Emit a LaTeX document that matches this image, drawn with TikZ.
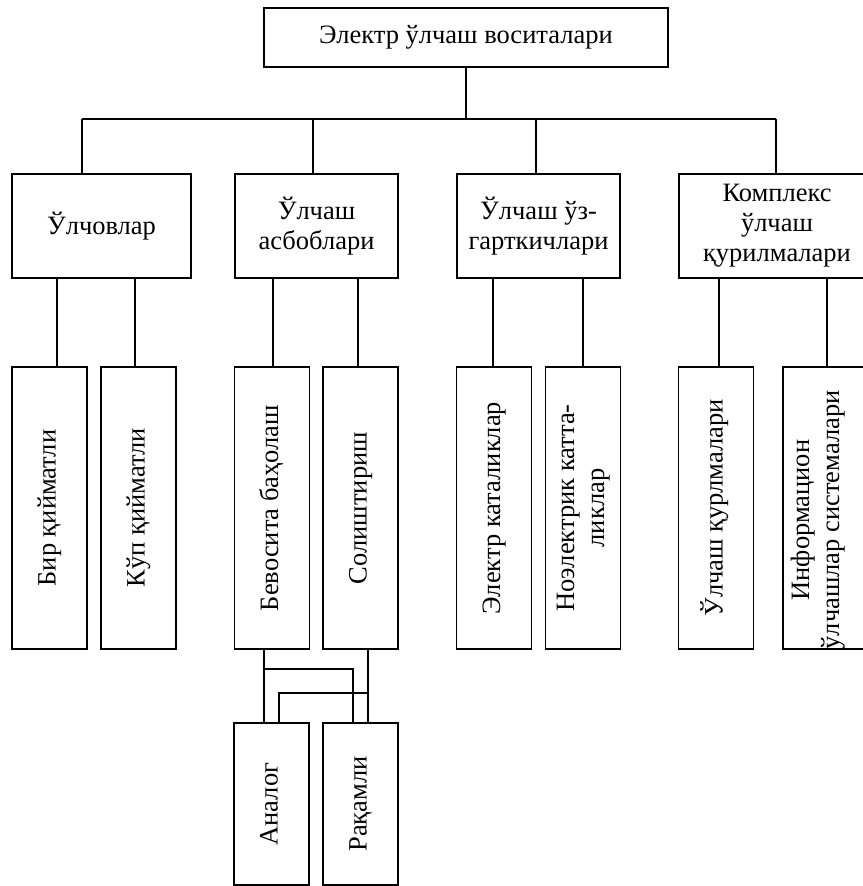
\documentclass[tikz,border=0pt]{standalone}
\usepackage{fontspec}
\setmainfont{Liberation Serif}
\usepackage{graphicx}
\tikzset{
  box/.style={draw, line width=1.8pt, inner sep=0pt, align=center},
  wide/.style={box, minimum height=104pt},
  tall/.style={box, minimum width=75pt, minimum height=282pt},
  low/.style={box, minimum width=75pt, minimum height=162pt},
  wire/.style={line width=1.8pt},
}
\newcommand{\up}[1]{\rotatebox{90}{\begin{tabular}{@{}c@{}}#1\end{tabular}}}
\begin{document}
\begin{tikzpicture}[x=1pt, y=-1pt, font=\fontsize{26.5}{30}\selectfont]
\useasboundingbox (0,0) rectangle (862,886);
\def\ytwo{226} \def\ythree{508} \def\yfour{804}
% top
\node[box, minimum width=404pt, minimum height=59pt] (top) at (466,37.5) {Электр ўлчаш воситалари};
% second row
\node[wide, minimum width=179pt] (izm) at (101.5,\ytwo) {Ўлчовлар};
\node[wide, minimum width=163pt] (asb) at (316.5,\ytwo) {Ўлчаш\\асбоблари};
\node[wide, minimum width=163pt] (uzg) at (538.5,\ytwo) {Ўлчаш ўз-\\гарткичлари};
\node[wide, minimum width=196pt] (kom) at (777,\ytwo) {Комплекс\\ўлчаш\\қурилмалари};
% third row
\node[tall] (bir) at (49.5,\ythree) {\up{Бир қийматли}};
\node[tall] (kup) at (138.5,\ythree) {\up{Кўп қийматли}};
\node[tall] (bev) at (272,\ythree) {\up{Бевосита баҳолаш}};
\node[tall] (sol) at (360.5,\ythree) {\up{Солиштириш}};
\node[tall] (el) at (494,\ythree) {\up{Электр каталиклар}};
\node[tall] (noel) at (583,\ythree) {\up{Ноэлектрик катта-\\ликлар}};
\node[tall] (qur) at (716,\ythree) {\up{Ўлчаш қурлмалари}};
\node[tall, minimum width=97pt] (inf) at (831.5,\ythree) {};
\node[inner sep=0pt] (infT) at (818,520) {\up{Информацион\\ўлчашлар системалари}};
% fourth row
\node[low] (an) at (271.5,\yfour) {\up{Аналог}};
\node[low] (raq) at (360.5,\yfour) {\up{Рақамли}};
% top connectors
\coordinate (busL) at (82,119);
\coordinate (busR) at (776,119);
\draw[wire] (top.south) -- (top.south |- busL);
\draw[wire] (busL) -- (busR);
\foreach \n/\x in {izm/82, asb/313, uzg/536, kom/776}{
  \path (\x,119) coordinate (cx);
  \draw[wire] (cx) -- (\n.north -| cx);
}
% second to third row
\foreach \p/\c/\x in {izm/bir/57, izm/kup/135, asb/bev/273, asb/sol/358, uzg/el/493, uzg/noel/583, kom/qur/719, kom/inf/827}{
  \path (\x,0) coordinate (cx);
  \draw[wire] (\p.south -| cx) -- (\c.north -| cx);
}
% third to fourth row
\coordinate (j1) at (264,669);
\coordinate (j2) at (353,669);
\coordinate (j3) at (368,693);
\coordinate (j4) at (279,693);
\draw[wire] (bev.south -| j1) -- (an.north -| j1);
\draw[wire] (j1) -- (j2) -- (raq.north -| j2);
\draw[wire] (sol.south -| j3) -- (raq.north -| j3);
\draw[wire] (j3) -- (j4) -- (an.north -| j4);
\end{tikzpicture}
\end{document}
